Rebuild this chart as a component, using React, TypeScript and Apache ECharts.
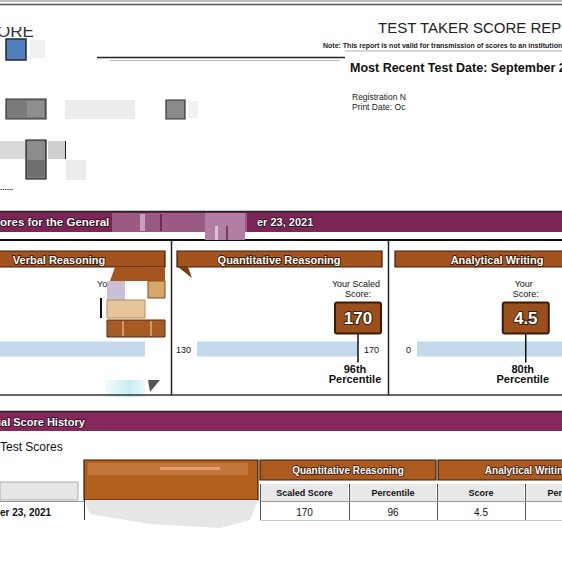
import React, { useEffect, useRef } from "react";
import * as echarts from "echarts";

// ---- data ----
const sections = ["Verbal Reasoning", "Quantitative Reasoning", "Analytical Writing"];
const scaleMin = [130, 130, 0];
const scaleMax = [170, 170, 6];
const scores: (number | null)[] = [null, 170, 4.5];
const percentiles: (number | null)[] = [null, 96, 80];
const scoreCaptions = [["Your Scaled", "Score:"], ["Your Scaled", "Score:"], ["Your", "Score:"]];
const tableColumns = ["Scaled Score", "Percentile", "Score", "Percentile"];
const historyDate = "er 23, 2021";
const reportTitle = "TEST TAKER SCORE REPORT";
const reportNote = "Note: This report is not valid for transmission of scores to an institution.";
const recentDate = "Most Recent Test Date: September 23, 2021";
const bandTitle1 = "ores for the General Test";
const bandDate1 = "er 23, 2021";
const bandTitle2 = "ial Score History";
const historyTitle = "Test Scores";

const FONT = '"Liberation Sans", Arial, sans-serif';

const rect = (x: number, y: number, w: number, h: number, fill: any, stroke?: string, lw = 1, z = 1) => ({
  type: "rect",
  z,
  shape: { x, y, width: w, height: h },
  style: { fill, stroke: stroke || null, lineWidth: stroke ? lw : 0 },
  silent: true,
});
const line = (x1: number, y1: number, x2: number, y2: number, stroke: string, lw = 1, z = 2) => ({
  type: "line",
  z,
  shape: { x1, y1, x2, y2 },
  style: { stroke, lineWidth: lw },
  silent: true,
});
const text = (
  x: number,
  y: number,
  t: string,
  font: string,
  fill = "#111",
  align = "left",
  stroke?: string,
  lw = 0,
  z = 5
) => ({
  type: "text",
  z,
  x,
  y,
  style: {
    text: t,
    font,
    fill,
    align,
    verticalAlign: "middle",
    stroke: stroke || null,
    lineWidth: stroke ? lw : 0,
  },
  silent: true,
});
const poly = (pts: number[][], fill: string, z = 2) => ({
  type: "polygon",
  z,
  shape: { points: pts },
  style: { fill },
  silent: true,
});

const BROWN = "#a3531c";
const DARKBROWN = "#3a1b0a";
const MAROON = "#7b2657";

export default function App() {
  const ref = useRef<HTMLDivElement>(null);
  useEffect(() => {
    const chart = echarts.init(ref.current!, null, { renderer: "svg" });

    const gridLeft = [-16, 197, 417];
    const gridWidth = 161;

    const graphic: any[] = [];
    // top rules
    graphic.push(rect(0, 0, 562, 2, "#bdbdbd"));
    graphic.push(line(0, 4.5, 562, 4.5, "#555", 1.5));
    // left header fragments
    graphic.push(text(-3, 31, "ORE", `17px ${FONT}`, "#333"));
    graphic.push(rect(0, 8, 45, 19, "#fff", undefined, 0, 6));
    graphic.push(rect(6, 39, 20, 21, "#4f80bd", "#2a2a2a", 1.5));
    graphic.push(rect(30, 40, 15, 18, "#f0f0f2"));
    graphic.push(line(97, 57.5, 345, 57.5, "#222", 1.5));
    graphic.push(line(110, 60.5, 340, 60.5, "#bbb", 1));
    // right header
    graphic.push(text(378, 27, reportTitle, `15px ${FONT}`, "#222"));
    graphic.push(text(323, 45, reportNote, `bold 7px ${FONT}`, "#222"));
    graphic.push(line(345, 51, 562, 51, "#999", 0.8));
    graphic.push(text(350, 68, recentDate, `bold 12.5px ${FONT}`, "#111"));
    graphic.push(text(352, 97, "Registration N", `8.5px ${FONT}`, "#222"));
    graphic.push(text(352, 107, "Print Date: Oc", `8.5px ${FONT}`, "#222"));
    // redacted grey blocks
    graphic.push(rect(6, 99, 40, 20, "#7a7a7a", "#333", 1.2));
    graphic.push(rect(27, 101, 17, 16, "#8e8e8e"));
    graphic.push(rect(65, 100, 70, 19, "#ececec"));
    graphic.push(rect(166, 100, 19, 19, "#8a8a8a", "#333", 1.2));
    graphic.push(rect(188, 101, 10, 17, "#f2f2f2"));
    graphic.push(rect(0, 141, 25, 18, "#d9d9d9"));
    graphic.push(rect(26, 140, 20, 39, "#8c8c8c", "#111", 1.2));
    graphic.push(rect(27.5, 160, 17, 17.5, "#6e6e6e"));
    graphic.push(rect(48, 141, 17, 18, "#cfcfcf"));
    graphic.push(line(65.5, 141, 65.5, 159, "#222", 1));
    graphic.push(rect(66, 160, 20, 20, "#ececec"));
    graphic.push(text(0, 187, "......", `bold 8px ${FONT}`, "#222"));

    // band 1
    graphic.push(line(0, 211.5, 562, 211.5, "#222", 1.5));
    graphic.push(rect(0, 212, 562, 20, MAROON));
    graphic.push(text(0, 222, bandTitle1, `bold 11.5px ${FONT}`, "#fff", "left", "#2a0818", 1.5));
    graphic.push(rect(112, 213, 135, 19, "#9a5a84", undefined, 0, 6));
    graphic.push(rect(140, 214, 5, 17, "#c9a0bb", undefined, 0, 6));
    graphic.push(rect(160, 214, 2, 17, "#6b2a52", undefined, 0, 6));
    graphic.push(rect(205, 213, 40, 27, "#b27ea3", undefined, 0, 6));
    graphic.push(rect(215, 226, 3, 14, "#e0c0d4", undefined, 0, 7));
    graphic.push(rect(226, 226, 2, 14, "#7a3a62", undefined, 0, 7));
    graphic.push(text(257, 222, bandDate1, `bold 11px ${FONT}`, "#fff", "left", "#2a0818", 1.5));
    graphic.push(line(0, 240, 562, 240, "#111", 2));

    // panel headers
    const hdr = [
      [-2, 167, 59],
      [177, 205, 279],
      [395, 172, 497],
    ];
    sections.forEach((s, i) => {
      const [x, w, c] = hdr[i];
      graphic.push(rect(x, 251, w, 16, BROWN, DARKBROWN, 1.2));
      graphic.push(text(c, 259.5, s, `bold 11px ${FONT}`, "#fff", "center", DARKBROWN, 1.8));
    });
    graphic.push(poly([[178, 267], [188, 267], [192, 278]], "#7a3a14"));
    graphic.push(line(171.5, 241, 171.5, 395, "#222", 1.5));
    graphic.push(line(388.5, 241, 388.5, 395, "#222", 1.5));
    graphic.push(line(0, 395, 562, 395, "#333", 1.5));

    // verbal redactions
    graphic.push(poly([[115, 267], [165, 267], [165, 281], [110, 281]], "#a5541d"));
    graphic.push(rect(107, 281, 18, 19, "#cbbfd8"));
    graphic.push(rect(148, 281, 17, 17, "#d8a66a", "#7a4a20", 1));
    graphic.push(rect(107, 300, 38, 18, "#e6c49c", "#b88a5a", 1));
    graphic.push(rect(107, 320, 58, 17, "#a65a24", "#5a2a10", 1));
    graphic.push(rect(122, 321, 2, 15, "#d29a6a"));
    graphic.push(rect(150, 321, 2, 15, "#d29a6a"));
    graphic.push(line(101, 298, 101, 318, "#111", 2));
    graphic.push(text(97, 284, "Yo", `9px ${FONT}`, "#222"));
    graphic.push(
      rect(105, 380, 40, 17, {
        type: "linear",
        x: 0,
        y: 0,
        x2: 1,
        y2: 0,
        colorStops: [
          { offset: 0, color: "#f2fbfd" },
          { offset: 0.6, color: "#c6eef5" },
          { offset: 1, color: "#e8f8fb" },
        ],
      })
    );
    graphic.push(poly([[148, 380], [160, 380], [150, 392]], "#555"));

    // band 2
    graphic.push(line(0, 411.5, 562, 411.5, "#222", 1.5));
    graphic.push(rect(0, 412, 562, 19, "#85295d"));
    graphic.push(text(-2, 421.5, bandTitle2, `bold 11px ${FONT}`, "#fff", "left", "#2a0818", 1.5));
    graphic.push(text(0, 447, historyTitle, `12px ${FONT}`, "#111"));

    // history table
    graphic.push(rect(0, 482, 78, 18, "#e6e6e6", "#aaa", 1));
    graphic.push(rect(84, 460, 174, 40, "#b35f1e", "#3a1b0a", 1.2));
    graphic.push(rect(88, 463, 160, 12, "#c4773a"));
    graphic.push(rect(160, 467, 60, 3, "#e0a06a"));
    graphic.push(
      poly(
        [
          [84, 500],
          [258, 500],
          [250, 520],
          [220, 528],
          [150, 524],
          [90, 514],
        ],
        "#e6e6e6"
      )
    );
    graphic.push(line(84.5, 500, 84.5, 520, "#333", 1));
    graphic.push(text(0, 512, historyDate, `bold 10px ${FONT}`, "#111"));

    graphic.push(rect(260, 460, 176, 20, "#ac5a1e", DARKBROWN, 1.2));
    graphic.push(text(348, 470.5, sections[1], `bold 10px ${FONT}`, "#fff", "center", DARKBROWN, 1.6));
    graphic.push(rect(438, 460, 180, 20, "#ac5a1e", DARKBROWN, 1.2));
    graphic.push(text(527, 470.5, sections[2], `bold 10px ${FONT}`, "#fff", "center", DARKBROWN, 1.6));

    const colX = [260, 349, 437, 525, 613];
    const cellValues = [scores[1], percentiles[1], scores[2], percentiles[2]];
    tableColumns.forEach((c, k) => {
      const x0 = colX[k];
      const x1 = colX[k + 1];
      const cx = (x0 + x1) / 2;
      graphic.push(rect(x0 + 1, 484, x1 - x0 - 2, 17, "#e8e8e8"));
      graphic.push(text(cx, 493, c, `bold 9px ${FONT}`, "#111", "center"));
      graphic.push(text(cx, 512, String(cellValues[k]), `10px ${FONT}`, "#111", "center"));
    });
    colX.forEach((x) => graphic.push(line(x + 0.5, 484, x + 0.5, 520, "#555", 1)));
    graphic.push(line(260, 501.5, 562, 501.5, "#999", 1));
    graphic.push(line(0, 501.5, 84, 501.5, "#999", 1));
    graphic.push(line(260, 520.5, 562, 520.5, "#ccc", 1));

    const series: any[] = [];
    sections.forEach((s, i) => {
      series.push({
        type: "bar",
        name: s,
        xAxisIndex: i,
        yAxisIndex: i,
        data: [scaleMax[i]],
        barWidth: 15,
        clip: true,
        silent: true,
        itemStyle: { color: "#c4d9ec" },
        z: 2,
      });
      const sc = scores[i];
      if (sc == null) return;
      series.push({
        type: "custom",
        name: s + " score",
        xAxisIndex: i,
        yAxisIndex: i,
        clip: false,
        silent: true,
        z: 5,
        data: [[sc, 0]],
        renderItem: (params: any, api: any) => {
          const c = api.coord([api.value(0), 0]);
          const x = c[0];
          const y = c[1];
          const lo = api.coord([scaleMin[i], 0])[0];
          const hi = api.coord([scaleMax[i], 0])[0];
          const children: any[] = [
            { type: "line", shape: { x1: x, y1: y - 16, x2: x, y2: y + 13.5 }, style: { stroke: "#111", lineWidth: 1.5 } },
            {
              type: "rect",
              shape: { x: x - 23, y: y - 46.5, width: 46, height: 31, r: 2 },
              style: { fill: "#9b4f1c", stroke: DARKBROWN, lineWidth: 2 },
            },
            {
              type: "text",
              style: {
                text: String(sc),
                x,
                y: y - 31,
                align: "center",
                verticalAlign: "middle",
                font: `bold 17px ${FONT}`,
                fill: "#fff",
                stroke: DARKBROWN,
                lineWidth: 2,
              },
            },
            {
              type: "text",
              style: { text: scoreCaptions[i][0], x: x - 2, y: y - 65.5, align: "center", verticalAlign: "middle", font: `9px ${FONT}`, fill: "#111" },
            },
            {
              type: "text",
              style: { text: scoreCaptions[i][1], x, y: y - 55.5, align: "center", verticalAlign: "middle", font: `9px ${FONT}`, fill: "#111" },
            },
            {
              type: "text",
              style: { text: `${percentiles[i]}th`, x: x - 3, y: y + 19.5, align: "center", verticalAlign: "middle", font: `bold 11px ${FONT}`, fill: "#111" },
            },
            {
              type: "text",
              style: { text: "Percentile", x: x - 3, y: y + 30, align: "center", verticalAlign: "middle", font: `bold 11px ${FONT}`, fill: "#111" },
            },
            {
              type: "text",
              style: { text: String(scaleMin[i]), x: lo - 6, y: y + 1, align: "right", verticalAlign: "middle", font: `9px ${FONT}`, fill: "#111" },
            },
          ];
          if (hi < 540) {
            children.push({
              type: "text",
              style: { text: String(scaleMax[i]), x: hi + 6, y: y + 1, align: "left", verticalAlign: "middle", font: `9px ${FONT}`, fill: "#111" },
            });
          }
          return { type: "group", children };
        },
      });
    });

    chart.setOption({
      animation: false,
      backgroundColor: "#ffffff",
      grid: sections.map((_, i) => ({ left: gridLeft[i], top: 341, width: gridWidth, height: 16 })),
      xAxis: sections.map((_, i) => ({ type: "value", gridIndex: i, min: scaleMin[i], max: scaleMax[i], show: false })),
      yAxis: sections.map((s, i) => ({ type: "category", gridIndex: i, data: [s], show: false })),
      series,
      graphic,
    });
    return () => chart.dispose();
  }, []);
  return <div ref={ref} style={{ position: "fixed", left: 0, top: 0, width: 562, height: 562 }} />;
}
